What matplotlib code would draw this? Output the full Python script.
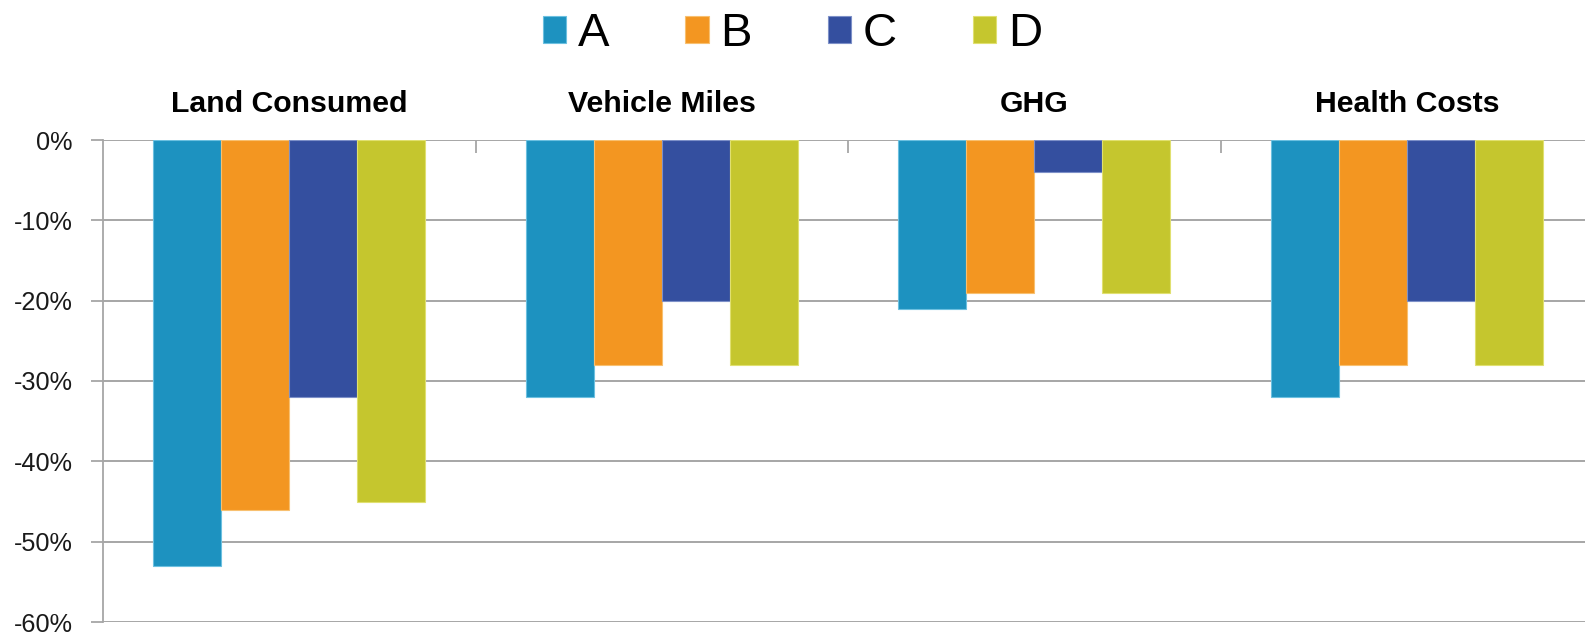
import matplotlib
matplotlib.use("Agg")
import matplotlib.pyplot as plt
from matplotlib.patches import Patch
from matplotlib.ticker import FixedLocator, FuncFormatter
import numpy as np

plt.rcParams['font.family'] = ['Liberation Sans', 'DejaVu Sans']

categories = ["Land Consumed", "Vehicle Miles", "GHG", "Health Costs"]
series_names = ["A", "B", "C", "D"]
values_a = [-53, -32, -21, -32]
values_b = [-46, -28, -19, -28]
values_c = [-32, -20, -4, -20]
values_d = [-45, -28, -19, -28]
y_ticks = [0, -10, -20, -30, -40, -50, -60]

colors = ["#1d92c0", "#f39621", "#344f9f", "#c5c62e"]
edge_colors = ["#6cc0e0", "#f8c070", "#7d90c8", "#e0e070"]

fig = plt.figure(figsize=(15.85, 6.34), dpi=100)
ax = fig.add_axes([103 / 1585, 12 / 634, 1490 / 1585, 482 / 634])

series = [values_a, values_b, values_c, values_d]
bar_w = 0.1826
centers = np.arange(len(categories)) + 0.5
for i, (vals, col, ec) in enumerate(zip(series, colors, edge_colors)):
    ax.bar(centers + (i - 1.5) * bar_w, vals, width=bar_w, color=col,
           edgecolor=ec, linewidth=0.8, zorder=3)

ax.set_xlim(0, len(categories))
ax.set_ylim(-60, 0)

# y axis: percentage ticks with gray gridlines
ax.yaxis.set_major_locator(FixedLocator(y_ticks))
ax.yaxis.set_major_formatter(FuncFormatter(lambda v, p: f"{int(round(v))}%"))
ax.tick_params(axis='y', which='major', direction='out', length=9, width=1.3,
               color='#a6a6a6', labelsize=18.2, labelcolor='#1a1a1a', pad=13)
ax.grid(axis='y', color='#a6a6a6', linewidth=1.4, zorder=0)
ax.set_axisbelow(True)

# x axis on top: category names and short separators between groups
ax.xaxis.set_ticks_position('top')
ax.set_xticks(centers)
ax.set_xticklabels(categories, fontsize=21.8, fontweight='bold', color='#000000')
ax.tick_params(axis='x', which='major', length=0, pad=16)
ax.set_xticks([1, 2, 3], minor=True)
ax.tick_params(axis='x', which='minor', direction='in', length=9, width=1.3,
               color='#a6a6a6', top=True, bottom=False)

for side in ['top', 'right', 'bottom']:
    ax.spines[side].set_visible(False)
ax.spines['left'].set_color('#a6a6a6')
ax.spines['left'].set_linewidth(1.3)

handles = [Patch(facecolor=c, edgecolor=e, linewidth=0.8) for c, e in zip(colors, edge_colors)]
fig.legend(handles, series_names, loc='center', bbox_to_anchor=(0.5, 0.946),
           ncol=4, frameon=False, fontsize=34, handlelength=0.5, handleheight=0.5,
           handletextpad=0.25, columnspacing=1.6, borderpad=0)

fig.savefig("out.png", dpi=100)
